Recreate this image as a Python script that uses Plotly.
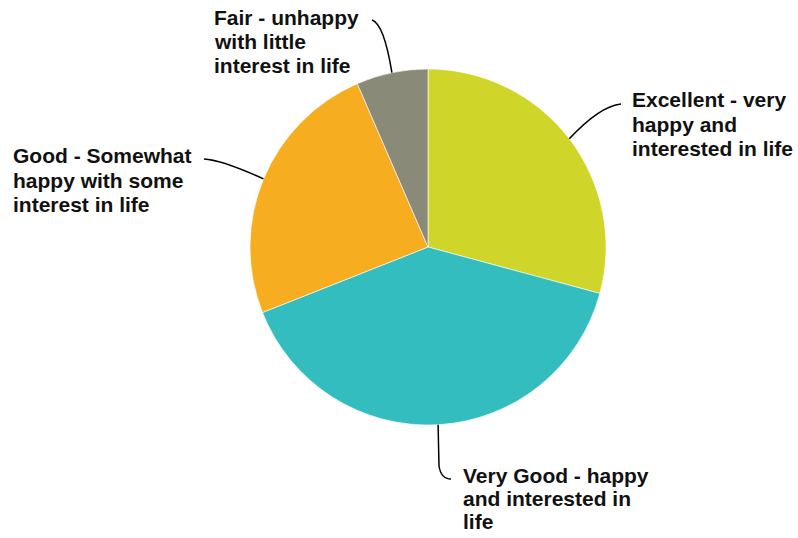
import math
import plotly.graph_objects as go

# Self-rated wellbeing shares (percent)
labels = [
    "Excellent - very happy and interested in life",
    "Very Good - happy and interested in life",
    "Good - Somewhat happy with some interest in life",
    "Fair - unhappy with little interest in life",
]
values = [29.2, 39.8, 24.5, 6.5]
colors = ["#D0D52A", "#33BDBF", "#F6AE20", "#8A8A78"]

# Wrapped label lines as shown beside each slice
label_lines = [
    ["Excellent - very", "happy and", "interested in life"],
    ["Very Good - happy", "and interested in", "life"],
    ["Good - Somewhat", "happy with some", "interest in life"],
    ["Fair - unhappy", "with little", "interest in life"],
]

W, H = 798, 538
CX, CY, R = 428, 247, 178          # pie centre and radius in pixels

# label block placement: (left x, first baseline y, line step)
label_pos = [(630, 107, 24.5), (461, 483, 23), (11, 163, 24.5), (212, 25, 24)]
# leader geometry: end point near the label and a curve control point
leader_end = [(621, 104), (451, 479), (204, 159), (372, 20)]
leader_ctrl = [(600, 106), (441, 479), (222, 160), (384, 24)]
leader_bend = [None, (439, 466), None, None]

fig = go.Figure()

fig.add_trace(go.Pie(
    labels=labels,
    values=values,
    sort=False,
    direction="clockwise",
    rotation=0,
    marker=dict(colors=colors, line=dict(color="white", width=0.6)),
    textinfo="none",
    hoverinfo="label+percent",
    showlegend=False,
    domain=dict(x=[(CX - R) / W, (CX + R) / W], y=[1 - (CY + R) / H, 1 - (CY - R) / H]),
))

# Leader lines from each slice's mid-angle to its label
total = sum(values)
cum = 0.0
shapes = []
for i, v in enumerate(values):
    mid = (cum + v / 2) / total * 2 * math.pi
    cum += v
    sx = CX + R * math.sin(mid)
    sy = CY - R * math.cos(mid)
    ex, ey = leader_end[i]
    qx, qy = leader_ctrl[i]
    if leader_bend[i]:
        bx, by = leader_bend[i]
        path = f"M {sx:.1f},{sy:.1f} L {bx},{by} Q {qx},{qy} {ex},{ey}"
    else:
        path = f"M {sx:.1f},{sy:.1f} Q {qx},{qy} {ex},{ey}"
    shapes.append(dict(type="path", path=path, xref="x", yref="y",
                       line=dict(color="black", width=1.5)))

annotations = []
FS = 21
for lines, (lx, ly, step) in zip(label_lines, label_pos):
    for k, line in enumerate(lines):
        base = ly + k * step
        annotations.append(dict(
            x=lx, y=base - 0.35 * FS, xref="x", yref="y",
            text=f"<b>{line}</b>", showarrow=False,
            xanchor="left", yanchor="middle",
            font=dict(family="Liberation Sans, Arial, sans-serif", size=FS, color="#111111"),
        ))

fig.update_layout(
    width=W, height=H,
    margin=dict(l=0, r=0, t=0, b=0),
    paper_bgcolor="white",
    plot_bgcolor="rgba(0,0,0,0)",
    xaxis=dict(range=[0, W], visible=False, fixedrange=True),
    yaxis=dict(range=[H, 0], visible=False, fixedrange=True),
    shapes=shapes,
    annotations=annotations,
)

fig.write_html("out.html")
